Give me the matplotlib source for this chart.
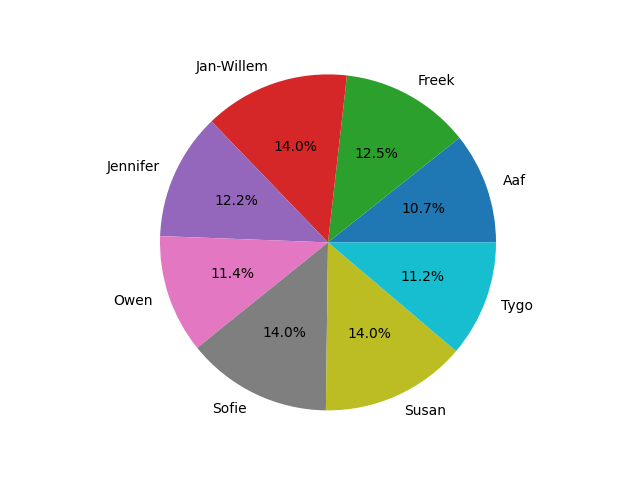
import matplotlib
matplotlib.use("Agg")
import matplotlib.pyplot as plt

names = ["Aaf", "Freek", "Jan-Willem", "Jennifer", "Owen", "Sofie", "Susan", "Tygo"]
shares = [10.7, 12.5, 14.0, 12.2, 11.4, 14.0, 14.0, 11.2]
colours = ["tab:blue", "tab:green", "tab:red", "tab:purple",
           "tab:pink", "tab:gray", "tab:olive", "tab:cyan"]

fig, ax = plt.subplots(figsize=(6.4, 4.8), dpi=100)
ax.pie(shares, labels=names, colors=colours, autopct="%1.1f%%")
ax.axis("equal")
fig.savefig("out.png")
